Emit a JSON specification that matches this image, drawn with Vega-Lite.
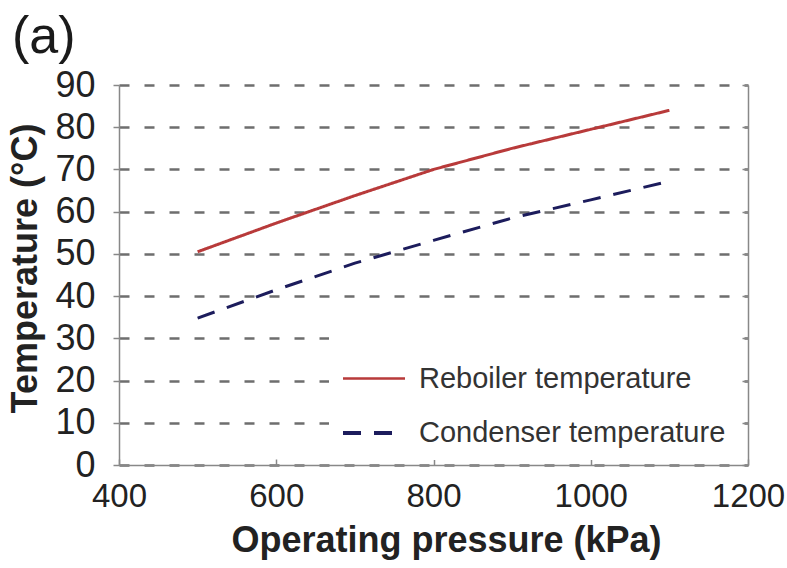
{
  "$schema": "https://vega.github.io/schema/vega-lite/v6.json",
  "autosize": "none",
  "width": 629,
  "height": 380,
  "padding": {"left": 119, "top": 85, "right": 39, "bottom": 103},
  "background": "white",
  "title": {"text": "(a)", "anchor": "start", "frame": "group", "dx": -107, "offset": -38, "baseline": "alphabetic", "fontSize": 52, "fontWeight": "normal", "font": "Liberation Sans", "color": "#1a1a1a"},
  "config": {
    "view": {"stroke": null},
    "font": "Liberation Sans"
  },
  "data": {"values": [
    {"p": 500, "t": 50.5, "series": "Reboiler temperature"},
    {"p": 600, "t": 57.3, "series": "Reboiler temperature"},
    {"p": 700, "t": 63.8, "series": "Reboiler temperature"},
    {"p": 800, "t": 70.0, "series": "Reboiler temperature"},
    {"p": 900, "t": 75.0, "series": "Reboiler temperature"},
    {"p": 1000, "t": 79.5, "series": "Reboiler temperature"},
    {"p": 1100, "t": 84.0, "series": "Reboiler temperature"},
    {"p": 500, "t": 34.8, "series": "Condenser temperature"},
    {"p": 600, "t": 41.5, "series": "Condenser temperature"},
    {"p": 700, "t": 47.8, "series": "Condenser temperature"},
    {"p": 800, "t": 53.2, "series": "Condenser temperature"},
    {"p": 900, "t": 58.5, "series": "Condenser temperature"},
    {"p": 1000, "t": 62.8, "series": "Condenser temperature"},
    {"p": 1100, "t": 67.2, "series": "Condenser temperature"}
  ]},
  "resolve": {"axis": {"y": "independent"}},
  "layer": [
    {
      "mark": {"type": "line", "strokeWidth": 3},
      "encoding": {
        "x": {"field": "p", "type": "quantitative",
          "scale": {"domain": [400, 1200], "nice": false},
          "axis": {"title": "Operating pressure (kPa)", "values": [400, 600, 800, 1000, 1200], "format": "d",
            "grid": false, "domainColor": "#888", "domainWidth": 1.5, "tickColor": "#888", "tickSize": -6, "tickWidth": 1.5,
            "labelFontSize": 33, "labelColor": "#222", "labelPadding": 21, "labelFlush": false,
            "titleFontSize": 36, "titleFontWeight": "bold", "titleColor": "#222", "titlePadding": 10, "titleX": 327}},
        "y": {"field": "t", "type": "quantitative",
          "scale": {"domain": [0, 90], "nice": false},
          "axis": {"title": "Temperature (°C)", "values": [0, 10, 20, 30, 40, 50, 60, 70, 80, 90],
            "grid": true, "gridColor": "#6e6e6e", "gridWidth": 2.5, "gridDash": [10, 15], "gridOpacity": 1,
            "domainColor": "#888", "domainWidth": 1.5, "tickColor": "#888", "tickSize": 6, "tickWidth": 1.5,
            "labelFontSize": 36, "labelColor": "#222", "labelPadding": 18,
            "titleFontSize": 36, "titleFontWeight": "bold", "titleColor": "#222", "titlePadding": 10, "titleY": 183}},
        "color": {"field": "series", "type": "nominal",
          "scale": {"domain": ["Reboiler temperature", "Condenser temperature"], "range": ["#b83a3a", "#1c1c5c"]},
          "legend": {"title": null, "orient": "none", "legendX": 210, "legendY": 249, "fillColor": "white", "padding": 12,
            "symbolType": "stroke", "symbolSize": 3844, "symbolStrokeWidth": 3.5,
            "labelFontSize": 29, "labelColor": "#333", "labelOffset": 12, "rowPadding": 6, "labelLimit": 400}},
        "strokeDash": {"field": "series", "type": "nominal",
          "scale": {"domain": ["Reboiler temperature", "Condenser temperature"], "range": [[1, 0], [18, 13]]},
          "legend": {"title": null, "orient": "none", "legendX": 210, "legendY": 249, "fillColor": "white", "padding": 12,
            "symbolType": "stroke", "symbolSize": 3844, "symbolStrokeWidth": 3.5,
            "labelFontSize": 29, "labelColor": "#333", "labelOffset": 12, "rowPadding": 6, "labelLimit": 400}},
        "strokeWidth": {"field": "series", "type": "nominal",
          "scale": {"domain": ["Reboiler temperature", "Condenser temperature"], "range": [2.5, 4]}, "legend": null}
      }
    },
    {
      "mark": {"type": "line", "opacity": 0},
      "encoding": {
        "x": {"field": "p", "type": "quantitative", "scale": {"domain": [400, 1200], "nice": false}},
        "y": {"field": "t", "type": "quantitative", "scale": {"domain": [0, 90], "nice": false},
          "axis": {"orient": "right", "title": null, "labels": false, "grid": false, "values": [0, 10, 20, 30, 40, 50, 60, 70, 80, 90],
            "domainColor": "#888", "domainWidth": 1.5, "tickColor": "#888", "tickSize": -6, "tickWidth": 1.5}},
        "detail": {"field": "series"}
      }
    }
  ]
}
